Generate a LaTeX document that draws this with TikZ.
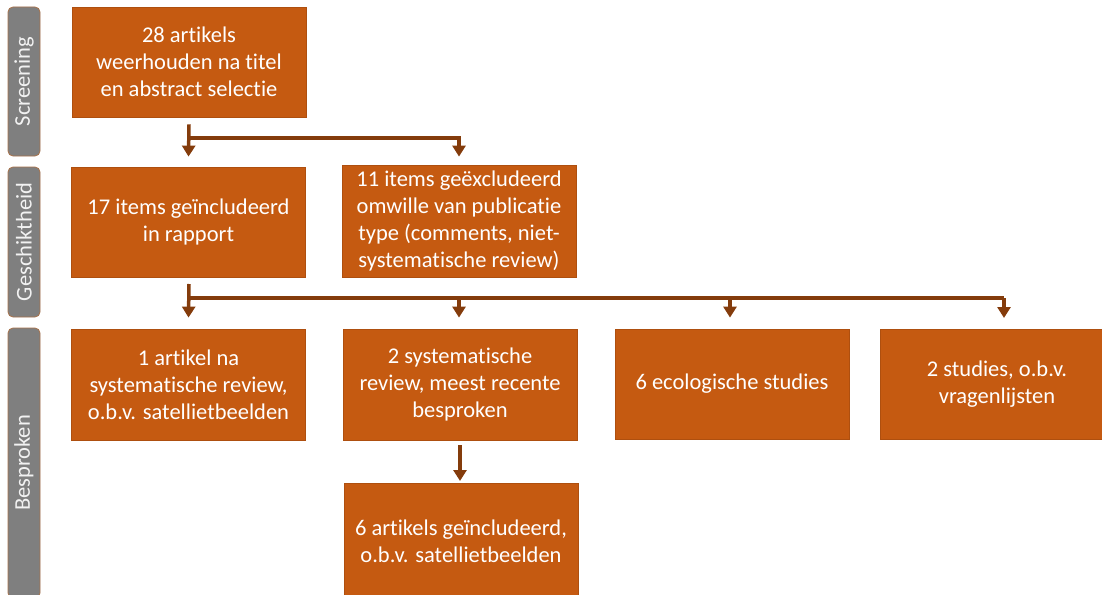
\documentclass[tikz,border=0pt]{standalone}
\usepackage{fontspec}
\setmainfont{Carlito}[Ligatures=NoCommon]
\usetikzlibrary{arrows.meta}
\definecolor{boxfill}{HTML}{C55A11}
\definecolor{boxline}{HTML}{AE4F0F}
\definecolor{arrcol}{HTML}{843C0C}
\definecolor{sidefill}{HTML}{7F7F7F}
\definecolor{sideline}{HTML}{A8724A}
\definecolor{sidetext}{HTML}{F2F2F2}
\newcommand{\boxfont}{\fontsize{22.5}{26.8}\selectfont}
\tikzset{
  box/.style={draw=boxline, fill=boxfill, line width=0.8pt, minimum width=234pt,
    minimum height=110pt, text=white, align=center, font=\boxfont, inner sep=0pt},
  sidebar/.style={draw=sideline, fill=sidefill, rounded corners=5pt, line width=0.8pt,
    minimum height=32pt, rotate=90, text=sidetext, font=\boxfont, inner sep=0pt},
  arr/.style={draw=arrcol, line width=3.5pt, -{Triangle[width=13pt,length=11pt]}},
  ln/.style={draw=arrcol, line width=3.5pt}
}
\begin{document}
\begin{tikzpicture}[x=1pt,y=-1pt]
\useasboundingbox (0,0) rectangle (1102,594);
\clip (0,0) rectangle (1102,594);
% side bars
\node[sidebar, minimum width=149pt] (sScr) at (24,81.5) {Screening};
\node[sidebar, minimum width=150pt] (sGes) at (24,242) {Geschiktheid};
\node[sidebar, minimum width=270pt] (sBes) at (24,463) {Besproken};
% boxes
\node[box] (b1) at (189,62) {28 artikels\\weerhouden na titel\\en abstract selectie};
\node[box, minimum height=110pt] (b2) at (188.5,222) {17 items geïncludeerd\\in rapport};
\node[box, minimum height=112pt] (b3) at (459,221) {11 items geëxcludeerd\\omwille van publicatie\\type (comments, niet-\\systematische review)};
\node[box, minimum height=111pt] (b4) at (188.5,384.5) {1 artikel na\\systematische review,\\o.b.v. satellietbeelden};
\node[box, minimum height=111pt] (b5) at (460,384.5) {2 systematische\\review, meest recente\\besproken};
\node[box, minimum height=110pt] (b6) at (732,384) {6 ecologische studies};
\node[box, minimum height=110pt] (b7) at (997,384) {2 studies, o.b.v.\\vragenlijsten};
\node[box, minimum height=116pt] (b8) at (461,541) {6 artikels geïncludeerd,\\o.b.v. satellietbeelden};
% connectors level 1
\coordinate (j1) at (189,138);
\draw[arr] ([yshift=-7pt]b1.south) -- ([yshift=10pt]b2.north);
\draw[arr] (j1) -| ([yshift=8pt]b3.north);
% connectors level 2
\coordinate (s2) at (189,284);
\coordinate (j2) at (189,298);
\coordinate (t7) at (1004,318);
\draw[arr] (s2) -- ([yshift=11pt]b4.north);
\draw[ln] (j2) -- (1004,298);
\draw[arr] ([xshift=-1pt]b5.north |- j2) -- ([xshift=-1pt,yshift=11pt]b5.north);
\draw[arr] ([xshift=-2pt]b6.north |- j2) -- ([xshift=-2pt,yshift=11pt]b6.north);
\draw[arr] (t7 |- j2) -- (t7);
% connector level 3
\coordinate (t8) at (460,481);
\draw[arr] ([yshift=-5pt]b5.south) -- (t8);
\end{tikzpicture}
\end{document}
